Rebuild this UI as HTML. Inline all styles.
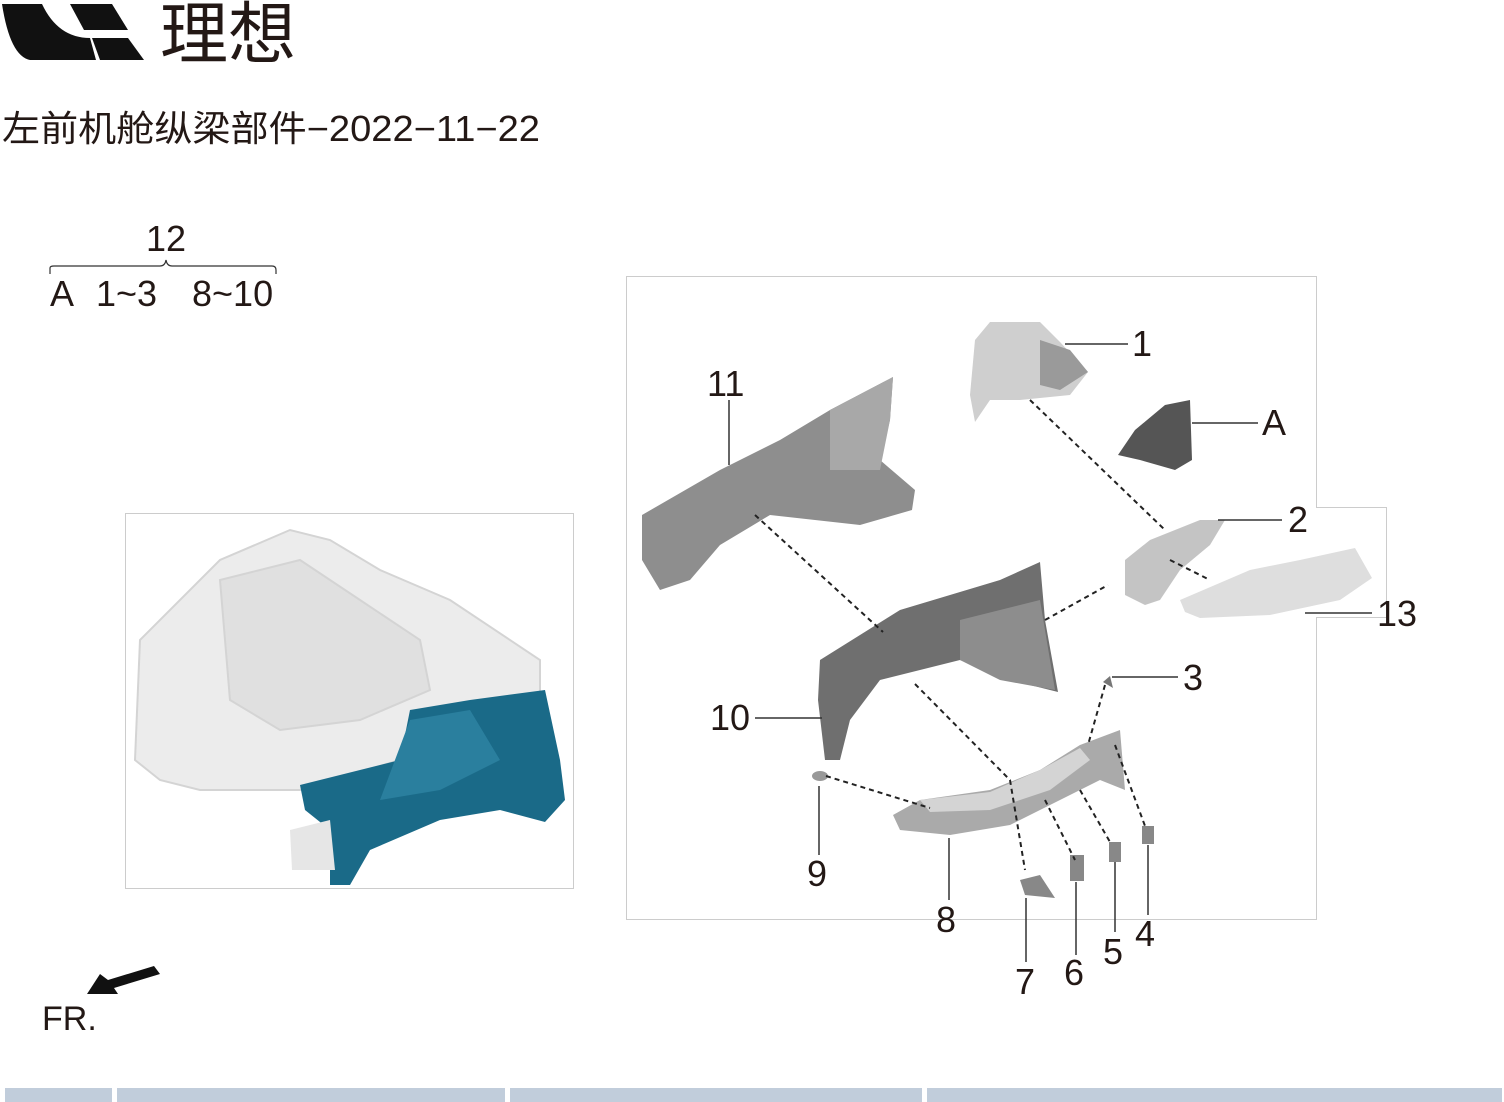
<!DOCTYPE html>
<html><head><meta charset="utf-8"><style>
html,body{margin:0;padding:0;background:#fff;width:1504px;height:1102px;overflow:hidden}
svg{display:block}
text{font-family:"Liberation Sans","DejaVu Sans","Noto Sans CJK SC",sans-serif;fill:#231815}
</style></head><body>
<svg width="1504" height="1102" viewBox="0 0 1504 1102" xmlns="http://www.w3.org/2000/svg">
<!-- logo -->
<path d="M2,4 L42,4 Q58,38 90,38 L96,60 L30,60 Q10,56 2,4Z" fill="#111"/>
<path d="M70,4 L112,4 L128,30 L84,30Z" fill="#111"/>
<path d="M92,38 L128,38 L144,60 L100,60Z" fill="#111"/>
<text x="160" y="58" font-size="68" style="font-family:'Noto Sans CJK SC',sans-serif">理想</text>
<text x="2" y="141" font-size="36" textLength="538" lengthAdjust="spacingAndGlyphs" style="font-family:'Liberation Sans','Noto Sans CJK SC',sans-serif">左前机舱纵梁部件−2022−11−22</text>
<!-- 12 brace -->
<text x="146" y="251" font-size="36">12</text>
<path d="M50,274 L50,268 Q50,266 54,266 L160,266 Q165,266 166,260 Q167,266 172,266 L272,266 Q276,266 276,270 L276,274" fill="none" stroke="#333" stroke-width="1.2"/>
<text x="50" y="306" font-size="36">A</text>
<text x="96" y="306" font-size="36">1~3</text>
<text x="192" y="306" font-size="36">8~10</text>
<!-- left frame -->
<rect x="125.5" y="513.5" width="448" height="375" fill="none" stroke="#ccc"/>
<g fill="#ececec" stroke="#d4d4d4" stroke-width="2">
<path d="M140,640 L220,560 L290,530 L330,540 L380,570 L450,600 L540,660 L540,700 L460,720 L400,760 L300,790 L200,790 L160,780 L135,760Z"/>
<path d="M220,580 L300,560 L360,600 L420,640 L430,690 L360,720 L280,730 L230,700Z" fill="#e0e0e0"/>
</g>
<path d="M300,785 L400,760 L410,710 L470,700 L545,690 L560,760 L565,800 L545,822 L500,810 L440,820 L370,850 L350,885 L330,885 L330,830 L305,810Z" fill="#1a6a88"/>
<path d="M410,720 L470,710 L500,760 L440,790 L380,800 Z" fill="#2a7f9e"/>
<path d="M290,830 L330,820 L335,870 L292,870Z" fill="#e6e6e6"/>
<!-- right frame -->
<path d="M626.5,276.5 L1316.5,276.5 L1316.5,507.5 L1386.5,507.5 L1386.5,617.5 L1316.5,617.5 L1316.5,919.5 L626.5,919.5Z" fill="none" stroke="#ccc"/>
<!-- part 11 -->
<path d="M642,515 L720,470 L780,440 L830,410 L893,377 L890,420 L880,460 L915,490 L912,510 L860,525 L770,515 L720,545 L690,580 L660,590 L642,560Z" fill="#8e8e8e"/>
<path d="M830,410 L893,377 L890,420 L880,470 L830,470Z" fill="#a8a8a8"/>
<!-- part 1 -->
<path d="M975,340 L990,322 L1040,322 L1060,342 L1088,372 L1070,395 L1020,400 L990,400 L975,422 L970,395Z" fill="#cfcfcf"/>
<path d="M1040,340 L1070,350 L1088,372 L1060,390 L1040,385Z" fill="#9a9a9a"/>
<!-- A -->
<path d="M1135,430 L1165,405 L1190,400 L1192,460 L1175,470 L1140,460 L1118,455Z" fill="#555"/>
<!-- part 2 -->
<path d="M1125,560 L1150,540 L1200,520 L1225,520 L1210,545 L1180,570 L1160,600 L1145,605 L1125,595Z" fill="#c4c4c4"/>
<!-- 13 -->
<path d="M1180,600 L1250,570 L1300,560 L1355,548 L1372,578 L1340,600 L1270,615 L1200,618 L1185,612Z" fill="#dedede"/>
<!-- part 10 -->
<path d="M820,660 L900,610 L1000,580 L1040,562 L1045,620 L1058,692 L1010,680 L960,660 L880,680 L850,720 L840,760 L825,760 L818,700Z" fill="#6f6f6f"/>
<path d="M960,620 L1040,600 L1055,690 L1000,680 L960,660Z" fill="#8d8d8d"/>
<!-- part 8 -->
<path d="M893,815 L920,800 L990,790 L1040,770 L1080,745 L1120,730 L1125,790 L1100,780 L1060,800 L1010,825 L950,835 L900,830Z" fill="#aaa"/>
<path d="M920,800 L990,792 L1040,770 L1080,748 L1090,760 L1050,790 L990,810 L930,812Z" fill="#d4d4d4"/>
<!-- small parts -->
<ellipse cx="820" cy="776" rx="8" ry="5" fill="#999"/>
<path d="M1103,682 L1110,676 L1113,688Z" fill="#777"/>
<path d="M1020,880 L1040,875 L1055,898 L1025,895Z" fill="#888"/>
<rect x="1070" y="855" width="14" height="26" fill="#888"/>
<rect x="1109" y="842" width="12" height="20" fill="#888"/>
<rect x="1142" y="826" width="12" height="18" fill="#888"/>
<!-- dashed -->
<g stroke="#222" stroke-width="2" stroke-dasharray="5,4" fill="none">
<path d="M1030,400 L1165,530"/>
<path d="M1170,560 L1210,580"/>
<path d="M755,515 L883,632"/>
<path d="M915,684 L1010,780 L1025,870"/>
<path d="M1045,620 L1108,585"/>
<path d="M826,776 L930,808"/>
<path d="M1105,685 L1088,745"/>
<path d="M1045,800 L1075,860"/>
<path d="M1080,790 L1110,842"/>
<path d="M1115,745 L1145,826"/>
</g>
<!-- leaders -->
<g stroke="#333" stroke-width="1.5">
<line x1="1065" y1="344" x2="1128" y2="344"/>
<line x1="1192" y1="423" x2="1258" y2="423"/>
<line x1="1218" y1="520" x2="1282" y2="520"/>
<line x1="1305" y1="613" x2="1372" y2="613"/>
<line x1="1112" y1="677" x2="1178" y2="677"/>
<line x1="755" y1="718" x2="822" y2="718"/>
<line x1="729" y1="400" x2="729" y2="465"/>
<line x1="819" y1="786" x2="819" y2="855"/>
<line x1="949" y1="838" x2="949" y2="900"/>
<line x1="1026" y1="898" x2="1026" y2="962"/>
<line x1="1076" y1="882" x2="1076" y2="955"/>
<line x1="1115" y1="862" x2="1115" y2="932"/>
<line x1="1148" y1="845" x2="1148" y2="915"/>
</g>
<g font-size="36">
<text x="1132" y="356">1</text>
<text x="1262" y="435">A</text>
<text x="1288" y="532">2</text>
<text x="1377" y="626">13</text>
<text x="1183" y="690">3</text>
<text x="710" y="730">10</text>
<text x="707" y="396">11</text>
<text x="807" y="886">9</text>
<text x="936" y="932">8</text>
<text x="1015" y="994">7</text>
<text x="1064" y="985">6</text>
<text x="1103" y="964">5</text>
<text x="1135" y="946">4</text>
</g>
<!-- FR arrow pointing left-down -->
<path d="M87,994 L100,974 L108,980 L154,966 L160,974 L114,988 L118,994Z" fill="#111"/>
<text x="42" y="1030" font-size="34">FR.</text>
<!-- footer bars -->
<g fill="#c1cddb">
<rect x="5" y="1088" width="107" height="14"/>
<rect x="117" y="1088" width="388" height="14"/>
<rect x="510" y="1088" width="412" height="14"/>
<rect x="927" y="1088" width="575" height="14"/>
</g>
</svg>
</body></html>
